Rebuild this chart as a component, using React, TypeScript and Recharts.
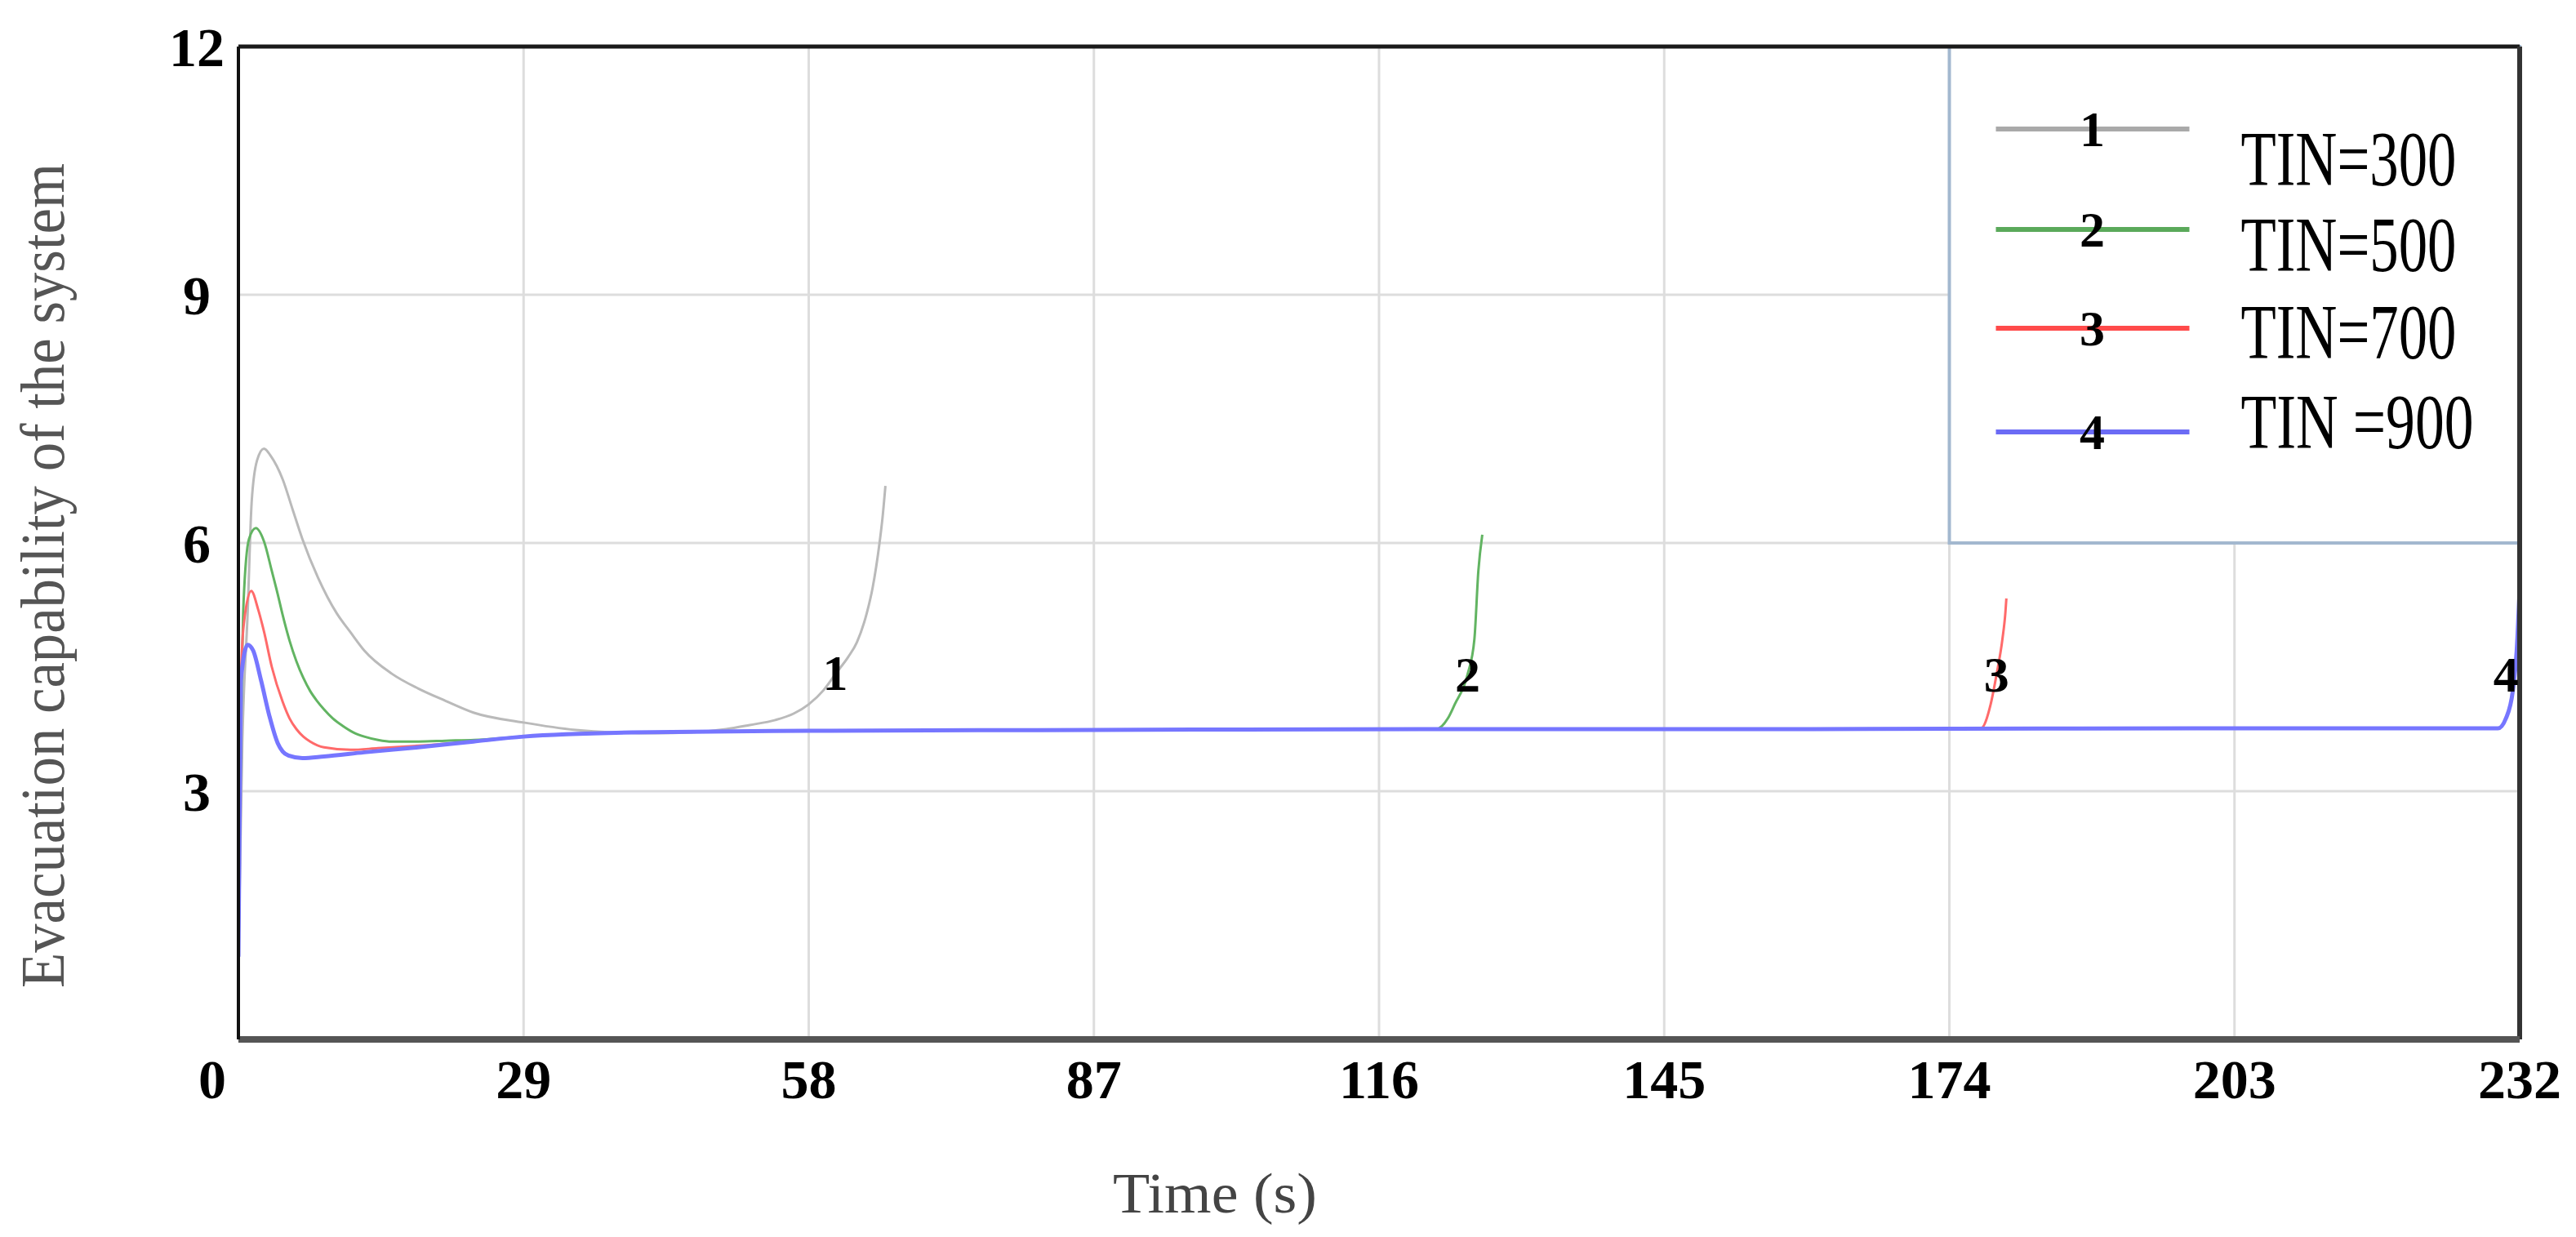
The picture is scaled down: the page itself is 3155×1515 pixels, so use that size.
import {
  LineChart,
  Line,
  XAxis,
  YAxis,
  CartesianGrid,
  ReferenceArea,
  ReferenceLine,
  ReferenceDot,
} from 'recharts';

// Time axis (s) and evacuation capability axis
const timeTicks = [0, 29, 58, 87, 116, 145, 174, 203, 232];
const capabilityTicks = [0, 3, 6, 9, 12];

// TIN=300
const tin300Times = [
  0, 0.4, 0.94, 1.35, 1.9, 2.6, 3.3, 4.5, 5.5, 6.5, 8.1, 10, 11.4, 12.8, 15.6, 18.3, 21.1, 23.9, 29, 34.3, 38,
  42.4, 46, 49.6, 52, 54.6, 56.5, 58, 59.5, 60.8, 62, 62.9, 63.9, 64.5, 65.2, 65.5, 65.8,
];
const tin300Values = [
  1.0, 3.6, 5.16, 6.5, 7.0, 7.14, 7.05, 6.77, 6.41, 6.05, 5.58, 5.15, 4.92, 4.7, 4.42, 4.24, 4.09, 3.95, 3.83,
  3.74, 3.71, 3.7, 3.71, 3.75, 3.8, 3.86, 3.94, 4.05, 4.22, 4.43, 4.62, 4.8, 5.15, 5.46, 6.0, 6.3, 6.69,
];

// TIN=500
const tin500Times = [
  0, 0.3, 0.53, 1.08, 1.77, 2.6, 3.4, 4.0, 4.5, 5.2, 5.9, 6.6, 7.3, 8.0, 8.7, 9.6, 10.6, 11.7, 12.8, 14.2, 15.6,
  18.3, 21.1, 24, 29, 40, 58, 87, 121.8, 123, 123.7, 125, 125.7, 126.1, 126.5,
];
const tin500Values = [
  1.0, 4.0, 5.3, 6.05, 6.18, 6.02, 5.66, 5.38, 5.13, 4.82, 4.57, 4.37, 4.21, 4.09, 3.99, 3.88, 3.79, 3.71, 3.66,
  3.62, 3.6, 3.6, 3.61, 3.62, 3.66, 3.71, 3.73, 3.74, 3.75, 3.88, 4.05, 4.41, 4.84, 5.66, 6.1,
];

// TIN=700
const tin700Times = [
  0, 0.25, 0.53, 1.3, 2.0, 2.6, 3.4, 4.5, 5.2, 5.9, 6.6, 7.3, 8.7, 11.4, 14.2, 18.3, 23.9, 29, 40, 58, 87, 120,
  160, 177.2, 178.2, 178.8, 179.4, 179.7, 179.8,
];
const tin700Values = [
  1.0, 4.3, 5.0, 5.42, 5.2, 4.93, 4.5, 4.08, 3.88, 3.75, 3.66, 3.6, 3.53, 3.5, 3.52, 3.55, 3.6, 3.66, 3.71, 3.73,
  3.74, 3.75, 3.75, 3.76, 4.05, 4.41, 4.84, 5.16, 5.33,
];

// TIN=900
const tin900Times = [
  0, 0.25, 0.94, 1.5, 2.3, 3.15, 4.0, 4.5, 5.1, 6.5, 8.7, 12.8, 18.3, 23.9, 29, 40, 58, 87, 120, 160, 200, 229.8,
  230.6, 231.3, 231.7, 232,
];
const tin900Values = [
  1.0, 4.34, 4.77, 4.7, 4.34, 3.91, 3.58, 3.48, 3.43, 3.4, 3.42, 3.47, 3.53, 3.6, 3.66, 3.71, 3.73, 3.74, 3.75,
  3.75, 3.76, 3.76, 3.88, 4.21, 4.7, 5.46,
];

const seriesIds = ['1', '2', '3', '4'];
const seriesNames = ['TIN=300', 'TIN=500', 'TIN=700', 'TIN =900'];
const curveLabelTimes = [60.7, 125, 178.8, 230.6];
const curveLabelValues = [4.43, 4.41, 4.41, 4.41];

const SERIF = "'Liberation Serif', 'Times New Roman', serif";
const lineColors = ['#bababa', '#62b462', '#ff6a6a', '#7676ff'];
const legendColors = ['#a9a9a9', '#5aa95a', '#ff4a4a', '#6b6bf5'];
const lineWidths = [3, 3, 3, 5];

const zip = (ts: number[], vs: number[]) => ts.map((t, i) => ({ t, v: vs[i] }));
const series = [
  zip(tin300Times, tin300Values),
  zip(tin500Times, tin500Values),
  zip(tin700Times, tin700Values),
  zip(tin900Times, tin900Values),
];

function TimeTick(props: any) {
  const { x, y, payload } = props;
  const dx = payload.value === 0 ? -32 : 0;
  return (
    <text x={x + dx} y={y + 72} textAnchor="middle" fontFamily={SERIF} fontWeight="bold" fontSize={68} fill="#000">
      {payload.value}
    </text>
  );
}

function CapabilityTick(props: any) {
  const { x, y, payload } = props;
  // the shared origin "0" is printed once, by the time axis
  if (payload.value === 0) return <g />;
  return (
    <text x={x - 51} y={y + 24} textAnchor="middle" fontFamily={SERIF} fontWeight="bold" fontSize={68} fill="#000">
      {payload.value}
    </text>
  );
}

const rowLine = [101, 224, 345, 472];
const rowText = [170, 275, 382, 492];
const textWidths = [264, 264, 264, 285];

function renderLegend(props: any) {
  const { x, y } = props.viewBox;
  return (
    <g>
      {seriesNames.map((name, i) => (
        <g key={name}>
          <line x1={x + 57} x2={x + 294} y1={y + rowLine[i]} y2={y + rowLine[i]} stroke={legendColors[i]} strokeWidth={6} />
          <text
            x={x + 175}
            y={y + rowLine[i] + 21}
            textAnchor="middle"
            fontFamily={SERIF}
            fontWeight="bold"
            fontSize={62}
            fill="#000"
          >
            {seriesIds[i]}
          </text>
          <text
            x={x + 357}
            y={y + rowText[i]}
            fontFamily={SERIF}
            fontSize={95}
            fill="#000"
            textLength={textWidths[i]}
            lengthAdjust="spacingAndGlyphs"
          >
            {name}
          </text>
        </g>
      ))}
    </g>
  );
}

function renderYLabel(props: any) {
  const vb = props.viewBox;
  const bx = vb.x + 70;
  const cy = vb.y + vb.height / 2 + 40;
  return (
    <text
      x={bx}
      y={cy}
      transform={`rotate(-90, ${bx}, ${cy})`}
      textAnchor="middle"
      fontFamily={SERIF}
      fontSize={76}
      fill="#555"
      textLength={1010}
      lengthAdjust="spacingAndGlyphs"
    >
      Evacuation capability of the system
    </text>
  );
}

function renderXLabel(props: any) {
  const vb = props.viewBox;
  const cx = vb.x + 1196;
  return (
    <text x={cx} y={vb.y + 212} textAnchor="middle" fontFamily={SERIF} fontSize={70} fill="#444" textLength={250} lengthAdjust="spacingAndGlyphs">
      Time (s)
    </text>
  );
}

function curveLabel(id: string) {
  return (p: any) => {
    const vb = p.viewBox;
    const cx = vb.x + vb.width / 2;
    const cy = vb.y + vb.height / 2;
    return (
      <text x={cx} y={cy + 21} textAnchor="middle" fontFamily={SERIF} fontWeight="bold" fontSize={62} fill="#000">
        {id}
      </text>
    );
  };
}

export default function App() {
  return (
    <div style={{ width: 3139, height: 1499, background: '#fff' }}>
      <LineChart width={3139} height={1499} margin={{ top: 49, right: 61, bottom: 0, left: 0 }}>
        <CartesianGrid stroke="#dddddd" strokeWidth={3} />
        <XAxis
          dataKey="t"
          type="number"
          domain={[0, 232]}
          ticks={timeTicks}
          allowDataOverflow
          height={234}
          tickSize={0}
          tickMargin={0}
          tickLine={false}
          axisLine={{ stroke: '#555', strokeWidth: 8 }}
          tick={<TimeTick />}
          label={renderXLabel}
        />
        <YAxis
          type="number"
          domain={[0, 12]}
          ticks={capabilityTicks}
          width={284}
          tickSize={0}
          tickMargin={0}
          tickLine={false}
          axisLine={{ stroke: '#111', strokeWidth: 4 }}
          tick={<CapabilityTick />}
          label={renderYLabel}
        />
        <ReferenceArea
          x1={174}
          x2={232}
          y1={6}
          y2={12}
          fill="#fff"
          fillOpacity={1}
          stroke="#a3b8cf"
          strokeWidth={4}
          label={renderLegend}
        />
        {series.map((data, i) => (
          <Line
            key={seriesNames[i]}
            data={data}
            dataKey="v"
            type="monotone"
            stroke={lineColors[i]}
            strokeWidth={lineWidths[i]}
            dot={false}
            activeDot={false}
            isAnimationActive={false}
          />
        ))}
        <ReferenceLine y={12} stroke="#1a1a1a" strokeWidth={5} />
        <ReferenceLine x={232} stroke="#333" strokeWidth={6} />
        {seriesIds.map((id, i) => (
          <ReferenceDot
            key={id}
            x={curveLabelTimes[i]}
            y={curveLabelValues[i]}
            r={1}
            fill="none"
            stroke="none"
            label={curveLabel(id)}
          />
        ))}
      </LineChart>
    </div>
  );
}
